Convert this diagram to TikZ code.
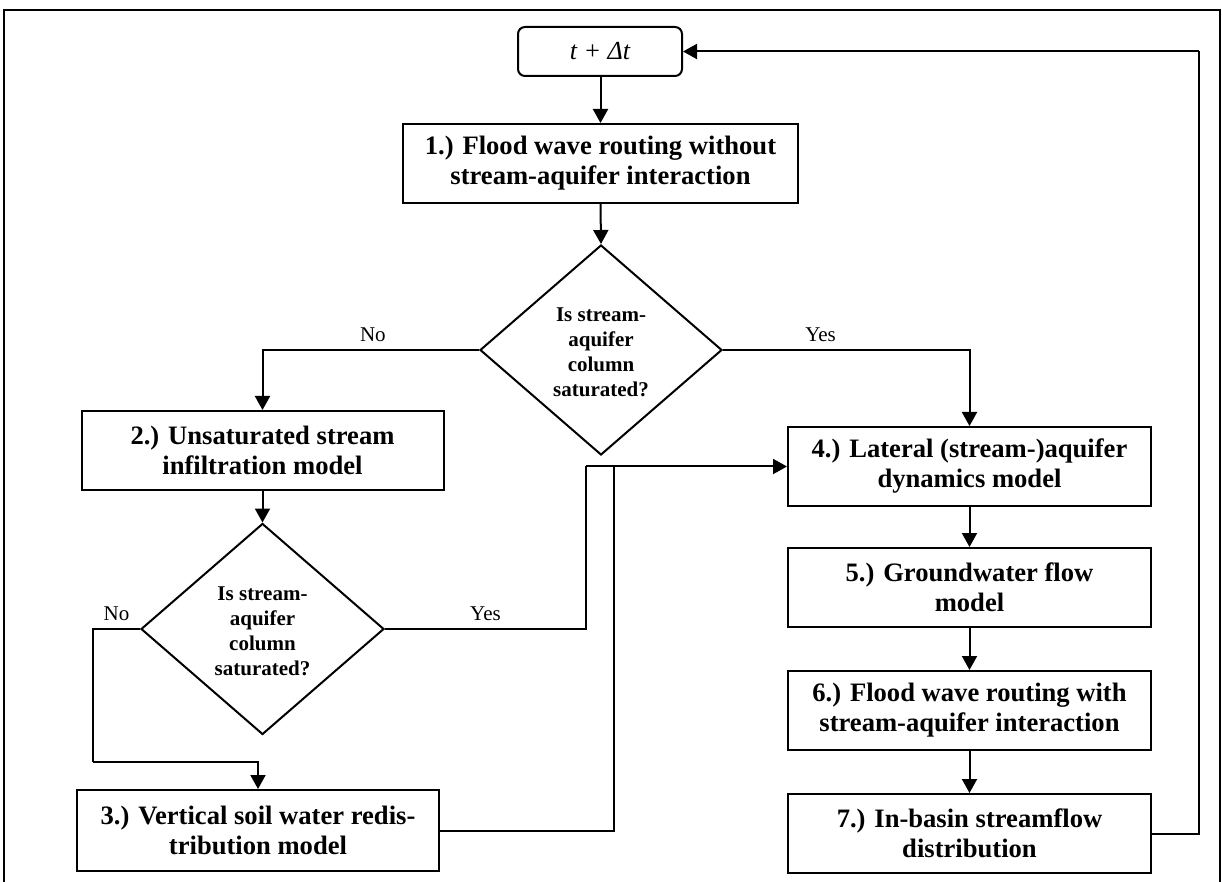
\documentclass[tikz,border=0pt]{standalone}
\usepackage{fontspec}
\setmainfont{Liberation Serif}
\usetikzlibrary{shapes.geometric,arrows.meta}
\begin{document}
\begin{tikzpicture}[x=0.5pt,y=-0.5pt,line width=1pt,
  box/.style={draw, rectangle, inner sep=0pt, align=center,
    minimum width=181.5pt, minimum height=39.5pt,
    font=\bfseries\fontsize{13.3}{15}\selectfont},
  dia/.style={draw, diamond, inner sep=0pt, minimum width=121pt, minimum height=105pt},
  diatext/.style={align=center, inner sep=0pt, font=\bfseries\fontsize{10.5}{12.5}\selectfont},
  lbl/.style={font=\fontsize{10.5}{12}\selectfont, inner sep=3.5pt},
  arr/.style={-{Triangle[length=7pt,width=7.5pt]}}]
\useasboundingbox (0,0) rectangle (1222,882);
% frame
\draw (4,882) -- (4,10) -- (1220,10) -- (1220,882);
% nodes
\node[draw, rounded corners=3.5pt, minimum width=82pt, minimum height=24.5pt, inner sep=0pt,
  font=\itshape\fontsize{13}{15}\selectfont] (t) at (600,51.5) {t + Δt};
\node[box, minimum width=197.5pt] (b1) at (600.5,163.5) {1.) Flood wave routing without\\stream-aquifer interaction};
\node[dia] (d1) at (601,350) {};
\node[diatext] (d1t) at (601,352) {Is stream-\\aquifer\\column\\saturated?};
\node[box, minimum width=181pt] (b2) at (262.5,450.5) {2.) Unsaturated stream\\infiltration model};
\node[dia, minimum width=121.5pt, minimum height=105.5pt] (d2) at (262.5,629) {};
\node[diatext] (d2t) at (262.5,631) {Is stream-\\aquifer\\column\\saturated?};
\node[box, minimum width=181pt, minimum height=40.5pt] (b3) at (258,830.5) {3.) Vertical soil water redis-\\tribution model};
\node[box] (b4) at (969.5,466.5) {4.) Lateral (stream-)aquifer\\dynamics model};
\node[box] (b5) at (969.5,587.5) {5.) Groundwater flow\\model};
\node[box] (b6) at (969.5,710.5) {6.) Flood wave routing with\\stream-aquifer interaction};
\node[box] (b7) at (969.5,833.5) {7.) In-basin streamflow\\distribution};
% coordinates for connectors
\coordinate (c1) at (93,762);
\coordinate (j1) at (586,466.5);
\coordinate (j2) at (614,466.5);
\coordinate (r1) at (1199,51.5);
% connectors
\draw[arr] (t.south) -- (b1.south |- t.south) -- (b1.north);
\draw[arr] (b1.south) -- (d1.north);
\draw[arr] (d1.west) -| node[lbl, above, pos=0.245] (no1) {No} (b2.north);
\draw[arr] (d1.east) -| node[lbl, above, pos=0.198] (yes1) {Yes} (b4.north);
\draw[arr] (b2.south) -- (d2.north);
\draw (d2.west) -| node[lbl, above, pos=0.25] (no2) {No} (c1);
\draw[arr] (c1) -| (b3.north);
\draw (d2.east) -| node[lbl, above, pos=0.25] (yes2) {Yes} (j1);
\draw (j1) -- (j2);
\draw (b3.east) -| (j2);
\draw[arr] (j2) -- (b4.west);
\draw[arr] (b4.south) -- (b5.north);
\draw[arr] (b5.south) -- (b6.north);
\draw[arr] (b6.south) -- (b7.north);
\draw (b7.east) -| (r1);
\draw[arr] (r1) -- (t.east);
\end{tikzpicture}
\end{document}
